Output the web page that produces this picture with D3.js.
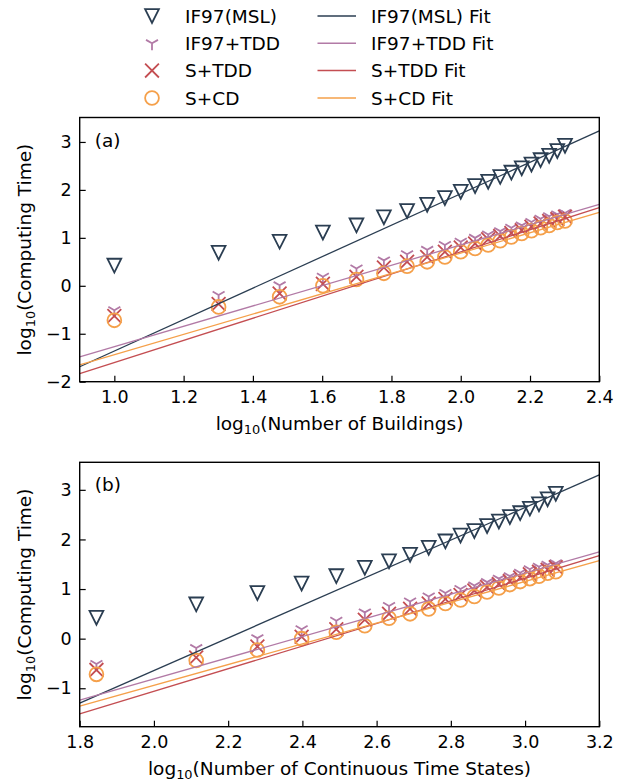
<!DOCTYPE html>
<html>
<head>
<meta charset="utf-8">
<script src="https://cdn.jsdelivr.net/npm/d3@7/dist/d3.min.js"></script>
<style>
  html, body { margin: 0; padding: 0; background: #fff; }
  svg { display: block; font-family: "DejaVu Sans", sans-serif; }
</style>
</head>
<body>
<svg id="chart" width="638" height="781"></svg>
<script>
// Problem sizes
const buildings = [10, 20, 30, 40, 50, 60, 70, 80, 90, 100, 110, 120, 130, 140, 150, 160, 170, 180, 190, 200];
const timeStates = [70, 130, 190, 250, 310, 370, 430, 490, 550, 610, 670, 730, 790, 850, 910, 970, 1030, 1090, 1150, 1210];

// log10 computing time for each method
const if97Msl = [0.42, 0.69, 0.92, 1.11, 1.26, 1.43, 1.56, 1.69, 1.83, 1.96, 2.08, 2.17, 2.27, 2.36, 2.45, 2.53, 2.62, 2.71, 2.81, 2.92];
const if97Tdd = [-0.51, -0.19, 0.01, 0.19, 0.36, 0.53, 0.66, 0.75, 0.85, 0.92, 1.00, 1.07, 1.14, 1.21, 1.26, 1.33, 1.40, 1.45, 1.49, 1.52];
const sTdd    = [-0.63, -0.38, -0.16, 0.04, 0.19, 0.38, 0.50, 0.60, 0.71, 0.80, 0.88, 0.97, 1.04, 1.10, 1.16, 1.23, 1.30, 1.35, 1.39, 1.44];
const sCd     = [-0.72, -0.44, -0.23, 0.00, 0.13, 0.26, 0.41, 0.50, 0.60, 0.71, 0.78, 0.85, 0.94, 1.02, 1.09, 1.15, 1.21, 1.26, 1.32, 1.35];

// Power-law fits: [slope, intercept] in log-log space
const fitsBuildings = [[3.28, -4.64], [2.12, -3.388], [2.307, -3.906], [2.12, -3.558]];
const fitsStates    = [[3.286, -7.214], [2.136, -5.084], [2.279, -5.621], [2.093, -5.127]];

const seriesNames = ["IF97(MSL)", "IF97+TDD", "S+TDD", "S+CD"];
const fitNames = ["IF97(MSL) Fit", "IF97+TDD Fit", "S+TDD Fit", "S+CD Fit"];
const colors = ["#2b3e52", "#b27aa6", "#c44e52", "#f5a04a"];
const markers = ["triDownOpen", "tri1", "x", "circle"];
const seriesY = [if97Msl, if97Tdd, sTdd, sCd];

const xTicksA = [1.0, 1.2, 1.4, 1.6, 1.8, 2.0, 2.2, 2.4];
const xTicksB = [1.8, 2.0, 2.2, 2.4, 2.6, 2.8, 3.0, 3.2];
const yTicksA = [-2, -1, 0, 1, 2, 3];
const yTicksB = [-1, 0, 1, 2, 3];

const svg = d3.select("#chart");
const MS = 6.9;    // marker half-size
const MW = 1.8;    // marker stroke width
const FS = 18.5;   // label font size

function drawMarker(g, type, x, y, color) {
  if (type === "triDownOpen") {
    g.append("path")
      .attr("d", `M${x - MS},${y - MS}L${x + MS},${y - MS}L${x},${y + MS}Z`)
      .attr("fill", "none").attr("stroke", color).attr("stroke-width", MW)
      .attr("stroke-linejoin", "miter");
  } else if (type === "tri1") {
    const a = MS * 0.866, b = MS * 0.5;
    g.append("path")
      .attr("d", `M${x},${y}L${x},${y + MS}M${x},${y}L${x - a},${y - b}M${x},${y}L${x + a},${y - b}`)
      .attr("fill", "none").attr("stroke", color).attr("stroke-width", MW);
  } else if (type === "x") {
    g.append("path")
      .attr("d", `M${x - MS},${y - MS}L${x + MS},${y + MS}M${x - MS},${y + MS}L${x + MS},${y - MS}`)
      .attr("fill", "none").attr("stroke", color).attr("stroke-width", MW);
  } else {
    g.append("circle").attr("cx", x).attr("cy", y).attr("r", MS)
      .attr("fill", "none").attr("stroke", color).attr("stroke-width", MW);
  }
}

function addLogLabel(sel, rest) {
  sel.append("tspan").text("log");
  sel.append("tspan").attr("font-size", (FS * 0.7) + "px").attr("dy", "4").text("10");
  sel.append("tspan").attr("dy", "-4").text(rest);
}

function panel(opts) {
  const { top, bottom, left, right, xDom, yDom, xTicks, yTicks, counts, fits, tag, xLabel, clipId } = opts;
  const x = d3.scaleLinear().domain(xDom).range([left, right]);
  const y = d3.scaleLinear().domain(yDom).range([bottom, top]);
  const g = svg.append("g");

  g.append("clipPath").attr("id", clipId)
    .append("rect").attr("x", left).attr("y", top).attr("width", right - left).attr("height", bottom - top);

  const xs = counts.map(c => Math.log10(c));

  // data markers
  const mg = g.append("g").attr("clip-path", `url(#${clipId})`);
  seriesY.forEach((ys, si) => {
    ys.forEach((v, i) => drawMarker(mg, markers[si], x(xs[i]), y(v), colors[si]));
  });

  // fitted lines across the full x range
  const line = d3.line().x(d => x(d[0])).y(d => y(d[1]));
  fits.forEach((f, si) => {
    const pts = xDom.map(xv => [xv, f[0] * xv + f[1]]);
    mg.append("path").attr("d", line(pts))
      .attr("fill", "none").attr("stroke", colors[si]).attr("stroke-width", 1.3);
  });

  // axes with inward ticks
  const xAxis = d3.axisBottom(x).tickValues(xTicks).tickFormat(d3.format(".1f"))
    .tickSizeInner(-6).tickSizeOuter(0).tickPadding(9);
  const yAxis = d3.axisLeft(y).tickValues(yTicks).tickFormat(d => d < 0 ? "\u2212" + Math.abs(d) : String(d))
    .tickSizeInner(-6).tickSizeOuter(0).tickPadding(8);

  const gx = g.append("g").attr("transform", `translate(0,${bottom})`).call(xAxis);
  const gy = g.append("g").attr("transform", `translate(${left},0)`).call(yAxis);
  [gx, gy].forEach(a => {
    a.select(".domain").remove();
    a.selectAll(".tick line").attr("stroke", "#000").attr("stroke-width", 1.2);
    a.selectAll(".tick text").attr("font-size", "17.5px").attr("fill", "#000")
      .attr("font-family", "DejaVu Sans, sans-serif");
  });

  // frame
  g.append("rect").attr("x", left).attr("y", top).attr("width", right - left).attr("height", bottom - top)
    .attr("fill", "none").attr("stroke", "#000").attr("stroke-width", 1.4);

  // panel tag
  g.append("text").attr("x", left + 15).attr("y", top + 29).attr("font-size", FS + "px").text(tag);

  // axis titles
  const xt = g.append("text").attr("x", (left + right) / 2).attr("y", bottom + 48)
    .attr("text-anchor", "middle").attr("font-size", FS + "px");
  addLogLabel(xt, xLabel);

  const yt = g.append("text")
    .attr("transform", `translate(31,${(top + bottom) / 2}) rotate(-90)`)
    .attr("text-anchor", "middle").attr("font-size", FS + "px");
  addLogLabel(yt, "(Computing Time)");
}

panel({
  top: 117.5, bottom: 381.7, left: 79.7, right: 599.3,
  xDom: [0.9, 2.4], yDom: [-2, 3.51], xTicks: xTicksA, yTicks: yTicksA,
  counts: buildings, fits: fitsBuildings, tag: "(a)",
  xLabel: "(Number of Buildings)", clipId: "clipA"
});

panel({
  top: 462.3, bottom: 726.7, left: 79.7, right: 599.3,
  xDom: [1.8, 3.2], yDom: [-1.775, 3.555], xTicks: xTicksB, yTicks: yTicksB,
  counts: timeStates, fits: fitsStates, tag: "(b)",
  xLabel: "(Number of Continuous Time States)", clipId: "clipB"
});

// legend: markers in the first column, fit lines in the second
const legend = svg.append("g");
const rowsY = [16, 43.3, 70.6, 98];
seriesNames.forEach((name, i) => {
  drawMarker(legend, markers[i], 152, rowsY[i], colors[i]);
  legend.append("text").attr("x", 185).attr("y", rowsY[i]).attr("dy", "0.36em")
    .attr("font-size", FS + "px").text(name);
});
fitNames.forEach((name, i) => {
  legend.append("line").attr("x1", 317.5).attr("x2", 356).attr("y1", rowsY[i]).attr("y2", rowsY[i])
    .attr("stroke", colors[i]).attr("stroke-width", 1.5);
  legend.append("text").attr("x", 371).attr("y", rowsY[i]).attr("dy", "0.36em")
    .attr("font-size", FS + "px").text(name);
});
</script>
</body>
</html>
